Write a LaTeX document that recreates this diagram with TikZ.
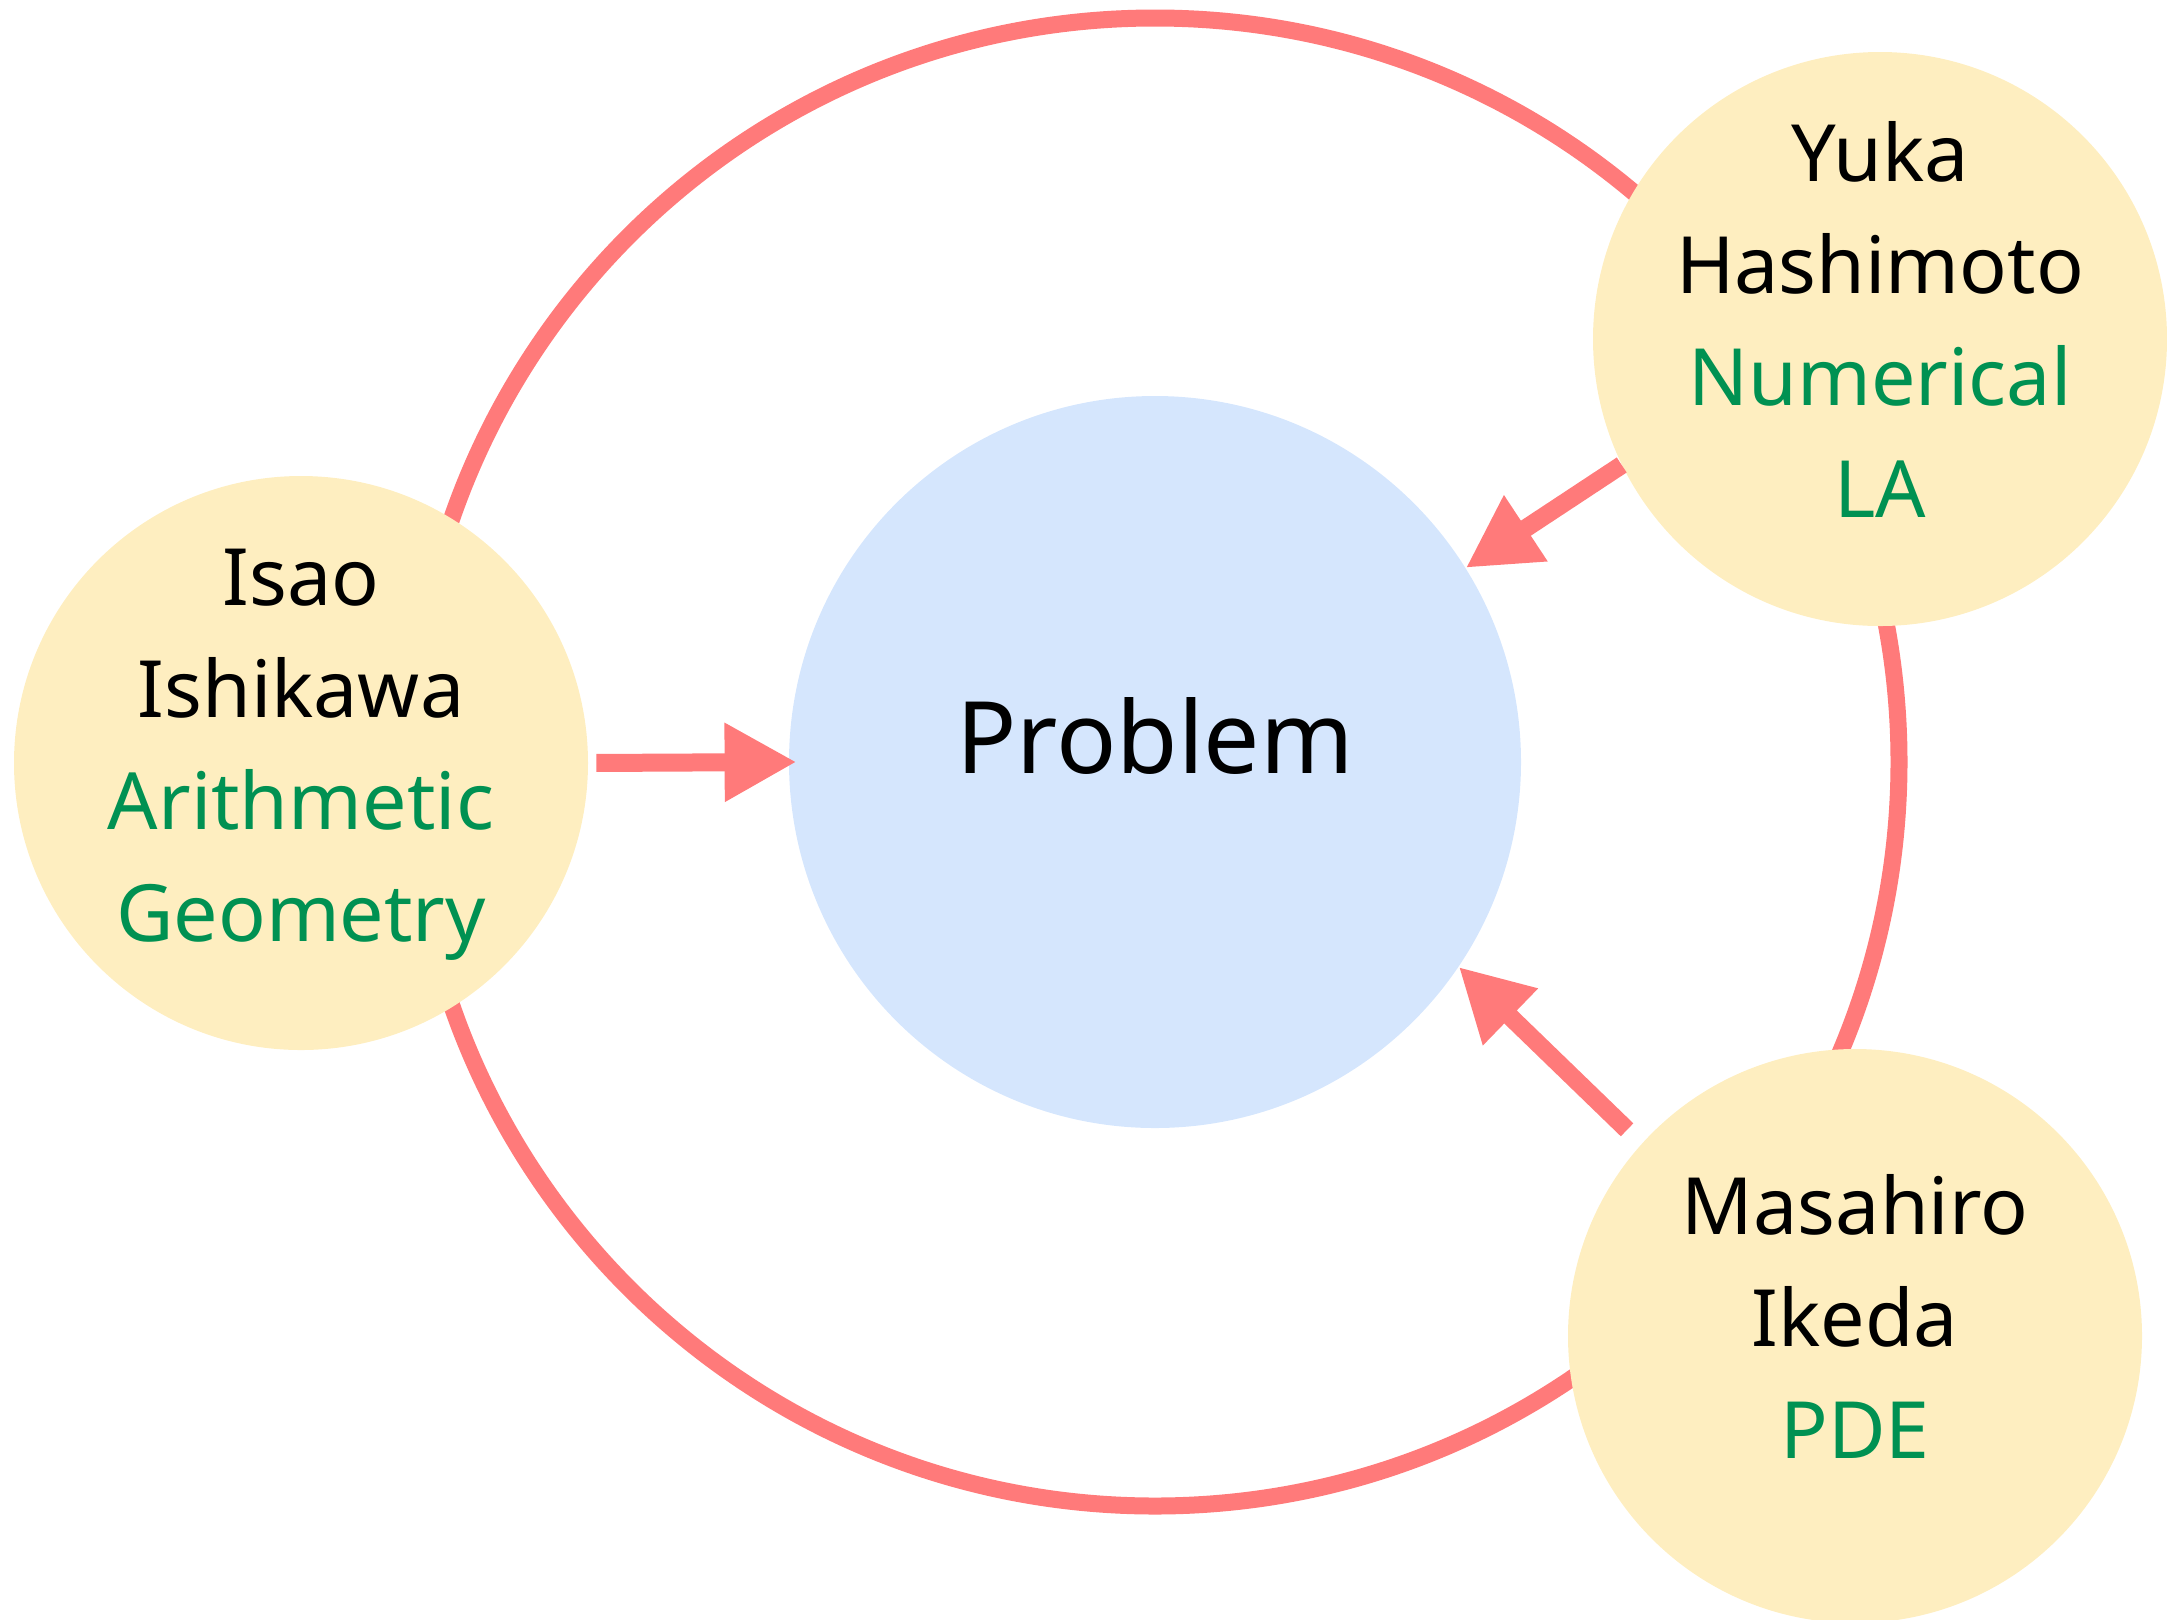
\documentclass[tikz,border=0pt]{standalone}
\usepackage{fontspec}
\setmainfont{Noto Sans}
\usetikzlibrary{arrows.meta}
\definecolor{ringred}{RGB}{255,122,122}
\definecolor{problemblue}{RGB}{213,230,253}
\definecolor{personyellow}{RGB}{254,238,192}
\definecolor{fieldgreen}{RGB}{0,145,82}
\newcommand{\rowstrut}{\rule[-23pt]{0pt}{56pt}}
\newcommand{\field}[1]{\textcolor{fieldgreen}{#1}}

\begin{document}
\begin{tikzpicture}[x=0.5pt,y=-0.5pt,
    person/.style={circle, fill=personyellow, minimum size=287pt, inner sep=0pt},
    persontext/.style={inner sep=0pt, align=center, font=\fontsize{39.5}{56}\selectfont},
    problem/.style={circle, fill=problemblue, minimum size=366pt, inner sep=0pt,
        font=\fontsize{50}{60}\selectfont},
    bigarrow/.style={ringred, line width=9pt, -{Triangle[length=36pt,width=37pt]}}]
    \useasboundingbox (0,0) rectangle (2167,1619);

    % outer ring behind everything
    \coordinate (centre) at (1155,762);
    \draw[ringred, line width=8.5pt] (centre) circle (372pt);

    \node[problem] (problem) at (centre) {\rule[-27pt]{0pt}{65pt}Problem};

    \node[person] (isao) at (301,763) {};
    \node[persontext] (isao text) at (isao)
        {Isao\rowstrut\\Ishikawa\rowstrut\\\field{Arithmetic}\rowstrut\\\field{Geometry}\rowstrut};
    \node[person] (yuka) at (1880,339) {};
    \node[persontext] (yuka text) at (yuka)
        {Yuka\rowstrut\\Hashimoto\rowstrut\\\field{Numerical}\rowstrut\\\field{LA}\rowstrut};
    \node[person] (masahiro) at (1855,1336) {};
    \node[persontext] (masahiro text) at (masahiro)
        {Masahiro\rowstrut\\Ikeda\rowstrut\\\field{PDE}\rowstrut};

    \draw[bigarrow, shorten <=4pt, shorten >=-4pt] (isao.east) -- (problem.west);
    \draw[bigarrow] (yuka.206) -- (problem.32);
    \draw[bigarrow, shorten <=10pt] (masahiro.138) -- (problem.-34);

\end{tikzpicture}
\end{document}
